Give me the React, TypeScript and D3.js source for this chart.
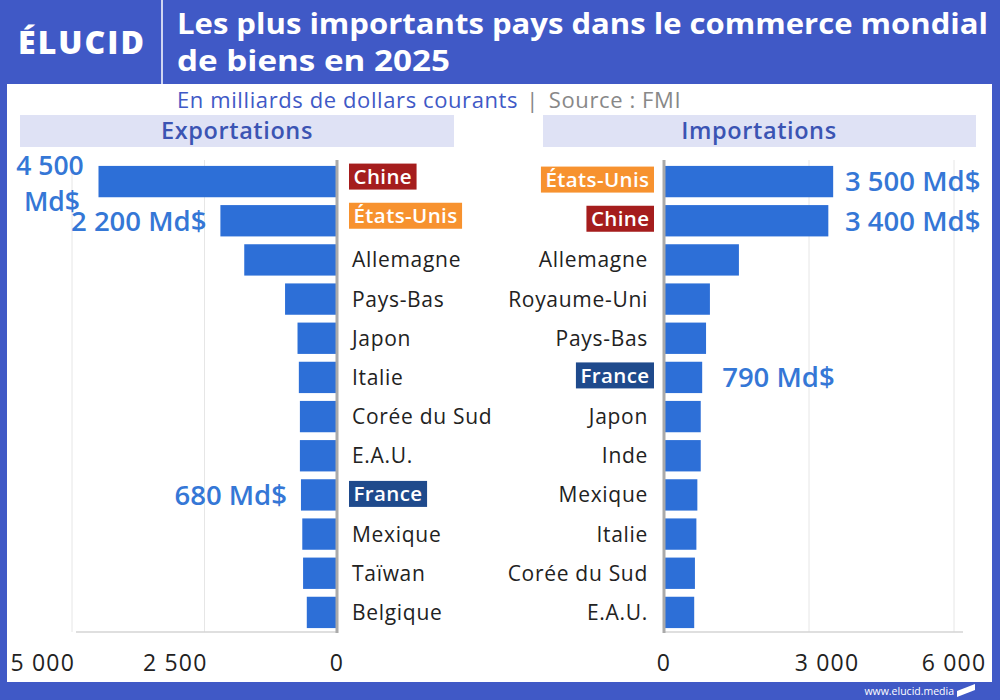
import React from 'react';
import * as d3 from 'd3';

// Exportations (gauche)
const exportCountries = ['Chine', 'États-Unis', 'Allemagne', 'Pays-Bas', 'Japon', 'Italie', 'Corée du Sud', 'E.A.U.', 'France', 'Mexique', 'Taïwan', 'Belgique'];
const exportValues = [4500, 2200, 1750, 980, 745, 720, 700, 700, 680, 655, 640, 570];
const exportTicks = [5000, 2500, 0];

// Importations (droite)
const importCountries = ['États-Unis', 'Chine', 'Allemagne', 'Royaume-Uni', 'Pays-Bas', 'France', 'Japon', 'Inde', 'Mexique', 'Italie', 'Corée du Sud', 'E.A.U.'];
const importValues = [3500, 3400, 1550, 950, 870, 790, 760, 760, 690, 670, 640, 625];
const importTicks = [0, 3000, 6000];

const highlight: Record<string, string> = {
    'Chine': '#A51D1D',
    'États-Unis': '#F7922F',
    'France': '#1F4A8C',
};

const FONT = '"Open Sans", sans-serif';
const BLUE = '#4059C6';
const BAR = '#2D6FD7';
const VALUE = '#3577D6';

const fmt = (v: number) => d3.format(',')(v).replace(/,/g, ' ');

// largeur du texte pour les étiquettes surlignées
const ctx = document.createElement('canvas').getContext('2d');
const textWidth = (s: string, size: number, weight: number, spacing: number) => {
    if (!ctx) return s.length * (size * 0.6 + spacing);
    ctx.font = `${weight} ${size}px "Open Sans"`;
    return ctx.measureText(s).width + s.length * spacing;
};

export default function App() {
    const rowScale = d3.scaleBand<string>()
        .domain(d3.range(12).map(String))
        .range([162, 632])
        .paddingInner(0.2)
        .paddingOuter(0.1);
    const bh = rowScale.bandwidth();
    const rowY = (i: number) => rowScale(String(i)) as number;

    const xLeft = d3.scaleLinear().domain([0, 5000]).range([337, 72]);
    const xRight = d3.scaleLinear().domain([0, 6000]).range([664, 954]);

    const labelBox = (name: string, x: number, cy: number, anchor: 'start' | 'end') => {
        const w = textWidth(name, 20.5, 600, 0.4) + 9;
        const bx = anchor === 'start' ? x - 4 : x - w + 5;
        return (
            <g key={'hl' + name + x}>
                <rect x={bx} y={cy - 13} width={w} height={26} fill={highlight[name]} />
                <text x={bx + w / 2} y={cy} dy="0.36em" textAnchor="middle" letterSpacing={0.4}
                    fill="white" fontWeight={600} fontSize={20.5}>{name}</text>
            </g>
        );
    };

    const valueStyle = { fill: VALUE, fontWeight: 600, fontSize: 27.5 } as const;

    return (
        <svg width={1000} height={700} style={{ position: 'absolute', left: 0, top: 0, fontFamily: FONT }}>
            {/* cadre */}
            <rect x={0} y={0} width={1000} height={700} fill={BLUE} />
            <rect x={7} y={84} width={985} height={598} fill="white" />
            <line x1={162} x2={162} y1={0} y2={84} stroke="white" strokeWidth={1.5} />
            <text x={82} y={42} dy="0.36em" textAnchor="middle" fill="white" fontWeight={800} fontSize={32} letterSpacing={2}>ÉLUCID</text>
            <text x={177} y={34} fill="white" fontWeight={700} fontSize={28} textLength={811} lengthAdjust="spacingAndGlyphs">Les plus importants pays dans le commerce mondial</text>
            <text x={177} y={71} fill="white" fontWeight={700} fontSize={28} textLength={273} lengthAdjust="spacingAndGlyphs">de biens en 2025</text>

            <text x={177} y={108} fontSize={22} letterSpacing={0.6}>
                <tspan fill={BLUE}>En milliards de dollars courants</tspan>
                <tspan fill="#888" dx={8}>|</tspan>
                <tspan fill="#888" dx={10}>Source : FMI</tspan>
            </text>

            <rect x={20} y={115} width={434} height={32} fill="#DFE2F5" />
            <text x={237} y={131} dy="0.36em" textAnchor="middle" fill="#3B54B3" fontWeight={600} fontSize={23.5} letterSpacing={0.6}>Exportations</text>
            <rect x={543} y={115} width={433} height={32} fill="#DFE2F5" />
            <text x={759} y={131} dy="0.36em" textAnchor="middle" fill="#3B54B3" fontWeight={600} fontSize={23.5} letterSpacing={0.6}>Importations</text>

            {/* grilles */}
            {exportTicks.filter(t => t > 0).map(t => (
                <line key={'gl' + t} x1={xLeft(t)} x2={xLeft(t)} y1={160} y2={632} stroke="#E6E6E6" strokeWidth={1} />
            ))}
            {importTicks.filter(t => t > 0).map(t => (
                <line key={'gr' + t} x1={xRight(t)} x2={xRight(t)} y1={160} y2={632} stroke="#E6E6E6" strokeWidth={1} />
            ))}
            <line x1={xLeft(5000) + 4} x2={xLeft(0)} y1={632} y2={632} stroke="#D5D5D5" strokeWidth={1.5} />
            <line x1={xRight(0)} x2={963} y1={632} y2={632} stroke="#D5D5D5" strokeWidth={1.5} />

            {/* barres exportations */}
            {exportValues.map((v, i) => (
                <rect key={'be' + i} x={xLeft(v)} y={rowY(i)} width={xLeft(0) - xLeft(v)} height={bh} fill={BAR} />
            ))}
            {/* barres importations */}
            {importValues.map((v, i) => (
                <rect key={'bi' + i} x={xRight(0)} y={rowY(i)} width={xRight(v) - xRight(0)} height={bh} fill={BAR} />
            ))}

            <line x1={xLeft(0)} x2={xLeft(0)} y1={160} y2={633} stroke="#AAAAAA" strokeWidth={3} />
            <line x1={xRight(0)} x2={xRight(0)} y1={160} y2={633} stroke="#AAAAAA" strokeWidth={3} />

            {/* noms pays */}
            {exportCountries.map((c, i) => {
                const cy = rowY(i) + bh / 2;
                if (highlight[c]) return labelBox(c, 353, cy - (i < 2 ? 5 : 1), 'start');
                return <text key={'ne' + i} x={352} y={cy} dy="0.36em" fill="#222" fontSize={21} letterSpacing={0.7}>{c}</text>;
            })}
            {importCountries.map((c, i) => {
                const cy = rowY(i) + bh / 2;
                if (highlight[c]) return labelBox(c, 649, cy - 2, 'end');
                return <text key={'ni' + i} x={648} y={cy} dy="0.36em" textAnchor="end" fill="#222" fontSize={21} letterSpacing={0.7}>{c}</text>;
            })}

            {/* valeurs */}
            <text x={50} y={165} dy="0.36em" textAnchor="middle" {...valueStyle} fontSize={26.5}>{fmt(exportValues[0])}</text>
            <text x={52} y={201} dy="0.36em" textAnchor="middle" {...valueStyle} fontSize={26.5}>Md$</text>
            {[1, 8].map(i => (
                <text key={'ve' + i} x={xLeft(exportValues[i]) - 14} y={rowY(i) + bh / 2} dy="0.36em" textAnchor="end"
                    {...valueStyle}>{fmt(exportValues[i]) + ' Md$'}</text>
            ))}
            {[0, 1, 5].map(i => (
                <text key={'vi' + i} x={i < 2 ? 845 : xRight(importValues[i]) + 20} y={rowY(i) + bh / 2} dy="0.36em"
                    {...valueStyle}>{fmt(importValues[i]) + ' Md$'}</text>
            ))}

            {/* axes */}
            {exportTicks.map(t => (
                <text key={'te' + t} x={xLeft(t) + (t === 0 ? 0 : 3)} y={663} dy="0.36em" textAnchor={t === 0 ? 'middle' : 'end'}
                    fill="#222" fontSize={23} letterSpacing={1.2}>{fmt(t)}</text>
            ))}
            {importTicks.map(t => (
                <text key={'ti' + t} x={xRight(t) + (t === 3000 ? 18 : 0)} y={663} dy="0.36em" textAnchor="middle"
                    fill="#222" fontSize={23} letterSpacing={1.2}>{fmt(t)}</text>
            ))}

            <text x={954} y={691} dy="0.36em" textAnchor="end" fill="white" fontSize={10.5}>www.elucid.media</text>
            <path d="M957,697 L975,690 L975,684 L957,691 Z" fill="white" />
        </svg>
    );
}
